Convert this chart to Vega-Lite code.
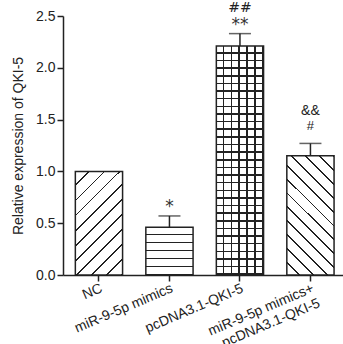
{
  "$schema": "https://vega.github.io/schema/vega-lite/v6.json",
  "width": 280,
  "height": 259,
  "autosize": {"type": "none"},
  "padding": {"left": 63, "top": 16, "right": 0, "bottom": 69},
  "background": "white",
  "config": {"font": "Liberation Sans", "view": {"stroke": null}},
  "datasets": {
    "bars": [
      {"group": "NC", "mean": 1.0, "upper": null},
      {"group": "miR-9-5p mimics", "mean": 0.46, "upper": 0.57},
      {"group": "pcDNA3.1-QKI-5", "mean": 2.21, "upper": 2.33},
      {"group": "miR-9-5p mimics+\npcDNA3.1-QKI-5", "mean": 1.15, "upper": 1.27}
    ],
    "annot": [
      {"group": "miR-9-5p mimics", "upper": 0.57, "text": "*"},
      {"group": "pcDNA3.1-QKI-5", "upper": 2.33, "text": "**"},
      {"group": "pcDNA3.1-QKI-5", "upper": 2.33, "text": "##"},
      {"group": "miR-9-5p mimics+\npcDNA3.1-QKI-5", "upper": 1.27, "text": "#"},
      {"group": "miR-9-5p mimics+\npcDNA3.1-QKI-5", "upper": 1.27, "text": "&&"}
    ]
  },
  "data": {"name": "bars"},
  "encoding": {
    "x": {
      "field": "group",
      "type": "nominal",
      "sort": null,
      "scale": {
        "type": "band",
        "domain": ["NC", "miR-9-5p mimics", "pcDNA3.1-QKI-5", "miR-9-5p mimics+\npcDNA3.1-QKI-5"],
        "paddingInner": 0.33,
        "paddingOuter": 0.151,
        "align": 0.58
      },
      "axis": {
        "title": null,
        "labelAngle": -23,
        "labelAlign": "right",
        "labelBaseline": "top",
        "labelFontSize": 14,
        "labelColor": "#222",
        "labelExpr": "split(datum.label, '\\n')",
        "labelLineHeight": 16,
        "tickSize": 6,
        "tickColor": "#222",
        "tickWidth": 1.5,
        "domainColor": "#222",
        "domainWidth": 1.5,
        "labelPadding": 0
      }
    },
    "y": {
      "field": "mean",
      "type": "quantitative",
      "scale": {"domain": [0, 2.5], "nice": false, "zero": true},
      "axis": {
        "title": "Relative expression of QKI-5",
        "values": [0, 0.5, 1, 1.5, 2, 2.5],
        "format": ".1f",
        "grid": false,
        "labelFontSize": 14,
        "labelColor": "#222",
        "titleFontSize": 14,
        "titleFontWeight": "normal",
        "titleColor": "#222",
        "tickSize": 6,
        "tickColor": "#222",
        "tickWidth": 1.5,
        "domainColor": "#222",
        "domainWidth": 1.5,
        "labelPadding": 2,
        "titlePadding": 10
      }
    }
  },
  "layer": [
    {
      "transform": [{"filter": {"field": "group", "equal": "NC"}}],
      "mark": {
        "type": "bar",
        "stroke": "#222",
        "strokeWidth": 1.5,
        "fill": {
          "gradient": "linear", "x1": 0, "y1": 0, "x2": 0.549, "y2": 1.205,
          "stops": [
            {"offset": 0, "color": "#ffffff"}, {"offset": 0.0878, "color": "#ffffff"}, {"offset": 0.0878, "color": "#222222"}, {"offset": 0.1, "color": "#222222"},
            {"offset": 0.1, "color": "#ffffff"}, {"offset": 0.1878, "color": "#ffffff"}, {"offset": 0.1878, "color": "#222222"}, {"offset": 0.2, "color": "#222222"},
            {"offset": 0.2, "color": "#ffffff"}, {"offset": 0.2878, "color": "#ffffff"}, {"offset": 0.2878, "color": "#222222"}, {"offset": 0.3, "color": "#222222"},
            {"offset": 0.3, "color": "#ffffff"}, {"offset": 0.3878, "color": "#ffffff"}, {"offset": 0.3878, "color": "#222222"}, {"offset": 0.4, "color": "#222222"},
            {"offset": 0.4, "color": "#ffffff"}, {"offset": 0.4878, "color": "#ffffff"}, {"offset": 0.4878, "color": "#222222"}, {"offset": 0.5, "color": "#222222"},
            {"offset": 0.5, "color": "#ffffff"}, {"offset": 0.5878, "color": "#ffffff"}, {"offset": 0.5878, "color": "#222222"}, {"offset": 0.6, "color": "#222222"},
            {"offset": 0.6, "color": "#ffffff"}, {"offset": 0.6878, "color": "#ffffff"}, {"offset": 0.6878, "color": "#222222"}, {"offset": 0.7, "color": "#222222"},
            {"offset": 0.7, "color": "#ffffff"}, {"offset": 0.7878, "color": "#ffffff"}, {"offset": 0.7878, "color": "#222222"}, {"offset": 0.8, "color": "#222222"},
            {"offset": 0.8, "color": "#ffffff"}, {"offset": 0.8878, "color": "#ffffff"}, {"offset": 0.8878, "color": "#222222"}, {"offset": 0.9, "color": "#222222"},
            {"offset": 0.9, "color": "#ffffff"}, {"offset": 0.9878, "color": "#ffffff"}, {"offset": 0.9878, "color": "#222222"}, {"offset": 1, "color": "#222222"}
          ]
        }
      }
    },
    {
      "transform": [{"filter": {"field": "group", "equal": "miR-9-5p mimics"}}],
      "mark": {
        "type": "bar",
        "stroke": "#222",
        "strokeWidth": 1.5,
        "fill": {
          "gradient": "linear", "x1": 0, "y1": 0, "x2": 0, "y2": 1,
          "stops": [
            {"offset": 0, "color": "#ffffff"}, {"offset": 0.1394, "color": "#ffffff"}, {"offset": 0.1394, "color": "#222222"}, {"offset": 0.1667, "color": "#222222"},
            {"offset": 0.1667, "color": "#ffffff"}, {"offset": 0.306, "color": "#ffffff"}, {"offset": 0.306, "color": "#222222"}, {"offset": 0.3333, "color": "#222222"},
            {"offset": 0.3333, "color": "#ffffff"}, {"offset": 0.4727, "color": "#ffffff"}, {"offset": 0.4727, "color": "#222222"}, {"offset": 0.5, "color": "#222222"},
            {"offset": 0.5, "color": "#ffffff"}, {"offset": 0.6394, "color": "#ffffff"}, {"offset": 0.6394, "color": "#222222"}, {"offset": 0.6667, "color": "#222222"},
            {"offset": 0.6667, "color": "#ffffff"}, {"offset": 0.8061, "color": "#ffffff"}, {"offset": 0.8061, "color": "#222222"}, {"offset": 0.8333, "color": "#222222"},
            {"offset": 0.8333, "color": "#ffffff"}, {"offset": 0.9727, "color": "#ffffff"}, {"offset": 0.9727, "color": "#222222"}, {"offset": 1, "color": "#222222"}
          ]
        }
      }
    },
    {
      "transform": [{"filter": {"field": "group", "equal": "pcDNA3.1-QKI-5"}}],
      "mark": {
        "type": "bar",
        "fill": {
          "gradient": "linear", "x1": 0, "y1": 0, "x2": 0, "y2": 1,
          "stops": [
            {"offset": 0, "color": "#ffffff"}, {"offset": 0.0267, "color": "#ffffff"}, {"offset": 0.0267, "color": "#222222"}, {"offset": 0.0333, "color": "#222222"},
            {"offset": 0.0333, "color": "#ffffff"}, {"offset": 0.0601, "color": "#ffffff"}, {"offset": 0.0601, "color": "#222222"}, {"offset": 0.0667, "color": "#222222"},
            {"offset": 0.0667, "color": "#ffffff"}, {"offset": 0.0934, "color": "#ffffff"}, {"offset": 0.0934, "color": "#222222"}, {"offset": 0.1, "color": "#222222"},
            {"offset": 0.1, "color": "#ffffff"}, {"offset": 0.1267, "color": "#ffffff"}, {"offset": 0.1267, "color": "#222222"}, {"offset": 0.1333, "color": "#222222"},
            {"offset": 0.1333, "color": "#ffffff"}, {"offset": 0.1601, "color": "#ffffff"}, {"offset": 0.1601, "color": "#222222"}, {"offset": 0.1667, "color": "#222222"},
            {"offset": 0.1667, "color": "#ffffff"}, {"offset": 0.1934, "color": "#ffffff"}, {"offset": 0.1934, "color": "#222222"}, {"offset": 0.2, "color": "#222222"},
            {"offset": 0.2, "color": "#ffffff"}, {"offset": 0.2267, "color": "#ffffff"}, {"offset": 0.2267, "color": "#222222"}, {"offset": 0.2333, "color": "#222222"},
            {"offset": 0.2333, "color": "#ffffff"}, {"offset": 0.2601, "color": "#ffffff"}, {"offset": 0.2601, "color": "#222222"}, {"offset": 0.2667, "color": "#222222"},
            {"offset": 0.2667, "color": "#ffffff"}, {"offset": 0.2934, "color": "#ffffff"}, {"offset": 0.2934, "color": "#222222"}, {"offset": 0.3, "color": "#222222"},
            {"offset": 0.3, "color": "#ffffff"}, {"offset": 0.3267, "color": "#ffffff"}, {"offset": 0.3267, "color": "#222222"}, {"offset": 0.3333, "color": "#222222"},
            {"offset": 0.3333, "color": "#ffffff"}, {"offset": 0.3601, "color": "#ffffff"}, {"offset": 0.3601, "color": "#222222"}, {"offset": 0.3667, "color": "#222222"},
            {"offset": 0.3667, "color": "#ffffff"}, {"offset": 0.3934, "color": "#ffffff"}, {"offset": 0.3934, "color": "#222222"}, {"offset": 0.4, "color": "#222222"},
            {"offset": 0.4, "color": "#ffffff"}, {"offset": 0.4267, "color": "#ffffff"}, {"offset": 0.4267, "color": "#222222"}, {"offset": 0.4333, "color": "#222222"},
            {"offset": 0.4333, "color": "#ffffff"}, {"offset": 0.4601, "color": "#ffffff"}, {"offset": 0.4601, "color": "#222222"}, {"offset": 0.4667, "color": "#222222"},
            {"offset": 0.4667, "color": "#ffffff"}, {"offset": 0.4934, "color": "#ffffff"}, {"offset": 0.4934, "color": "#222222"}, {"offset": 0.5, "color": "#222222"},
            {"offset": 0.5, "color": "#ffffff"}, {"offset": 0.5267, "color": "#ffffff"}, {"offset": 0.5267, "color": "#222222"}, {"offset": 0.5333, "color": "#222222"},
            {"offset": 0.5333, "color": "#ffffff"}, {"offset": 0.5601, "color": "#ffffff"}, {"offset": 0.5601, "color": "#222222"}, {"offset": 0.5667, "color": "#222222"},
            {"offset": 0.5667, "color": "#ffffff"}, {"offset": 0.5934, "color": "#ffffff"}, {"offset": 0.5934, "color": "#222222"}, {"offset": 0.6, "color": "#222222"},
            {"offset": 0.6, "color": "#ffffff"}, {"offset": 0.6267, "color": "#ffffff"}, {"offset": 0.6267, "color": "#222222"}, {"offset": 0.6333, "color": "#222222"},
            {"offset": 0.6333, "color": "#ffffff"}, {"offset": 0.6601, "color": "#ffffff"}, {"offset": 0.6601, "color": "#222222"}, {"offset": 0.6667, "color": "#222222"},
            {"offset": 0.6667, "color": "#ffffff"}, {"offset": 0.6934, "color": "#ffffff"}, {"offset": 0.6934, "color": "#222222"}, {"offset": 0.7, "color": "#222222"},
            {"offset": 0.7, "color": "#ffffff"}, {"offset": 0.7267, "color": "#ffffff"}, {"offset": 0.7267, "color": "#222222"}, {"offset": 0.7333, "color": "#222222"},
            {"offset": 0.7333, "color": "#ffffff"}, {"offset": 0.7601, "color": "#ffffff"}, {"offset": 0.7601, "color": "#222222"}, {"offset": 0.7667, "color": "#222222"},
            {"offset": 0.7667, "color": "#ffffff"}, {"offset": 0.7934, "color": "#ffffff"}, {"offset": 0.7934, "color": "#222222"}, {"offset": 0.8, "color": "#222222"},
            {"offset": 0.8, "color": "#ffffff"}, {"offset": 0.8267, "color": "#ffffff"}, {"offset": 0.8267, "color": "#222222"}, {"offset": 0.8333, "color": "#222222"},
            {"offset": 0.8333, "color": "#ffffff"}, {"offset": 0.8601, "color": "#ffffff"}, {"offset": 0.8601, "color": "#222222"}, {"offset": 0.8667, "color": "#222222"},
            {"offset": 0.8667, "color": "#ffffff"}, {"offset": 0.8934, "color": "#ffffff"}, {"offset": 0.8934, "color": "#222222"}, {"offset": 0.9, "color": "#222222"},
            {"offset": 0.9, "color": "#ffffff"}, {"offset": 0.9267, "color": "#ffffff"}, {"offset": 0.9267, "color": "#222222"}, {"offset": 0.9333, "color": "#222222"},
            {"offset": 0.9333, "color": "#ffffff"}, {"offset": 0.9601, "color": "#ffffff"}, {"offset": 0.9601, "color": "#222222"}, {"offset": 0.9667, "color": "#222222"},
            {"offset": 0.9667, "color": "#ffffff"}, {"offset": 0.9934, "color": "#ffffff"}, {"offset": 0.9934, "color": "#222222"}, {"offset": 1, "color": "#222222"}
          ]
        }
      }
    },
    {
      "transform": [{"filter": {"field": "group", "equal": "pcDNA3.1-QKI-5"}}],
      "mark": {
        "type": "bar",
        "stroke": "#222",
        "strokeWidth": 1.5,
        "fill": {
          "gradient": "linear", "x1": 0, "y1": 0, "x2": 1, "y2": 0,
          "stops": [
            {"offset": 0, "color": "rgba(34,34,34,0)"}, {"offset": 0.1349, "color": "rgba(34,34,34,0)"}, {"offset": 0.1349, "color": "#222222"}, {"offset": 0.1667, "color": "#222222"},
            {"offset": 0.1667, "color": "rgba(34,34,34,0)"}, {"offset": 0.3015, "color": "rgba(34,34,34,0)"}, {"offset": 0.3015, "color": "#222222"}, {"offset": 0.3333, "color": "#222222"},
            {"offset": 0.3333, "color": "rgba(34,34,34,0)"}, {"offset": 0.4682, "color": "rgba(34,34,34,0)"}, {"offset": 0.4682, "color": "#222222"}, {"offset": 0.5, "color": "#222222"},
            {"offset": 0.5, "color": "rgba(34,34,34,0)"}, {"offset": 0.6349, "color": "rgba(34,34,34,0)"}, {"offset": 0.6349, "color": "#222222"}, {"offset": 0.6667, "color": "#222222"},
            {"offset": 0.6667, "color": "rgba(34,34,34,0)"}, {"offset": 0.8015, "color": "rgba(34,34,34,0)"}, {"offset": 0.8015, "color": "#222222"}, {"offset": 0.8333, "color": "#222222"},
            {"offset": 0.8333, "color": "rgba(34,34,34,0)"}, {"offset": 0.9682, "color": "rgba(34,34,34,0)"}, {"offset": 0.9682, "color": "#222222"}, {"offset": 1, "color": "#222222"}
          ]
        }
      }
    },
    {
      "transform": [{"filter": {"field": "group", "equal": "miR-9-5p mimics+\npcDNA3.1-QKI-5"}}],
      "mark": {
        "type": "bar",
        "stroke": "#222",
        "strokeWidth": 1.5,
        "fill": {
          "gradient": "linear", "x1": 0, "y1": 1, "x2": 0.478, "y2": -0.2066,
          "stops": [
            {"offset": 0, "color": "#ffffff"}, {"offset": 0.0722, "color": "#ffffff"}, {"offset": 0.0722, "color": "#222222"}, {"offset": 0.0833, "color": "#222222"},
            {"offset": 0.0833, "color": "#ffffff"}, {"offset": 0.1556, "color": "#ffffff"}, {"offset": 0.1556, "color": "#222222"}, {"offset": 0.1667, "color": "#222222"},
            {"offset": 0.1667, "color": "#ffffff"}, {"offset": 0.2389, "color": "#ffffff"}, {"offset": 0.2389, "color": "#222222"}, {"offset": 0.25, "color": "#222222"},
            {"offset": 0.25, "color": "#ffffff"}, {"offset": 0.3222, "color": "#ffffff"}, {"offset": 0.3222, "color": "#222222"}, {"offset": 0.3333, "color": "#222222"},
            {"offset": 0.3333, "color": "#ffffff"}, {"offset": 0.4056, "color": "#ffffff"}, {"offset": 0.4056, "color": "#222222"}, {"offset": 0.4167, "color": "#222222"},
            {"offset": 0.4167, "color": "#ffffff"}, {"offset": 0.4889, "color": "#ffffff"}, {"offset": 0.4889, "color": "#222222"}, {"offset": 0.5, "color": "#222222"},
            {"offset": 0.5, "color": "#ffffff"}, {"offset": 0.5722, "color": "#ffffff"}, {"offset": 0.5722, "color": "#222222"}, {"offset": 0.5833, "color": "#222222"},
            {"offset": 0.5833, "color": "#ffffff"}, {"offset": 0.6556, "color": "#ffffff"}, {"offset": 0.6556, "color": "#222222"}, {"offset": 0.6667, "color": "#222222"},
            {"offset": 0.6667, "color": "#ffffff"}, {"offset": 0.7389, "color": "#ffffff"}, {"offset": 0.7389, "color": "#222222"}, {"offset": 0.75, "color": "#222222"},
            {"offset": 0.75, "color": "#ffffff"}, {"offset": 0.8222, "color": "#ffffff"}, {"offset": 0.8222, "color": "#222222"}, {"offset": 0.8333, "color": "#222222"},
            {"offset": 0.8333, "color": "#ffffff"}, {"offset": 0.9056, "color": "#ffffff"}, {"offset": 0.9056, "color": "#222222"}, {"offset": 0.9167, "color": "#222222"},
            {"offset": 0.9167, "color": "#ffffff"}, {"offset": 0.9889, "color": "#ffffff"}, {"offset": 0.9889, "color": "#222222"}, {"offset": 1, "color": "#222222"}
          ]
        }
      }
    },
    {
      "transform": [{"filter": "datum.upper != null"}],
      "mark": {"type": "rule", "color": "#222", "strokeWidth": 1.5},
      "encoding": {
        "y": {"field": "mean", "type": "quantitative"},
        "y2": {"field": "upper"}
      }
    },
    {
      "transform": [{"filter": "datum.upper != null"}],
      "mark": {"type": "tick", "color": "#222", "thickness": 1.5, "size": 22, "orient": "horizontal"},
      "encoding": {
        "y": {"field": "upper", "type": "quantitative"}
      }
    },
    {
      "data": {"name": "annot"},
      "transform": [{"filter": "datum.text === '*' || datum.text === '**'"}],
      "mark": {"type": "text", "font": "DejaVu Sans", "fontSize": 17, "color": "#333", "baseline": "alphabetic", "dy": -4},
      "encoding": {
        "y": {"field": "upper", "type": "quantitative"},
        "text": {"field": "text"}
      }
    },
    {
      "data": {"name": "annot"},
      "transform": [{"filter": "datum.text === '#'"}],
      "mark": {"type": "text", "fontSize": 13, "color": "#222", "baseline": "alphabetic", "dy": -13},
      "encoding": {
        "y": {"field": "upper", "type": "quantitative"},
        "text": {"field": "text"}
      }
    },
    {
      "data": {"name": "annot"},
      "transform": [{"filter": "datum.text === '##'"}],
      "mark": {"type": "text", "font": "DejaVu Sans", "fontSize": 14, "color": "#222", "baseline": "alphabetic", "dy": -22},
      "encoding": {
        "y": {"field": "upper", "type": "quantitative"},
        "text": {"field": "text"}
      }
    },
    {
      "data": {"name": "annot"},
      "transform": [{"filter": "datum.text === '&&'"}],
      "mark": {"type": "text", "fontSize": 14, "color": "#222", "baseline": "alphabetic", "dy": -28},
      "encoding": {
        "y": {"field": "upper", "type": "quantitative"},
        "text": {"field": "text"}
      }
    }
  ]
}
